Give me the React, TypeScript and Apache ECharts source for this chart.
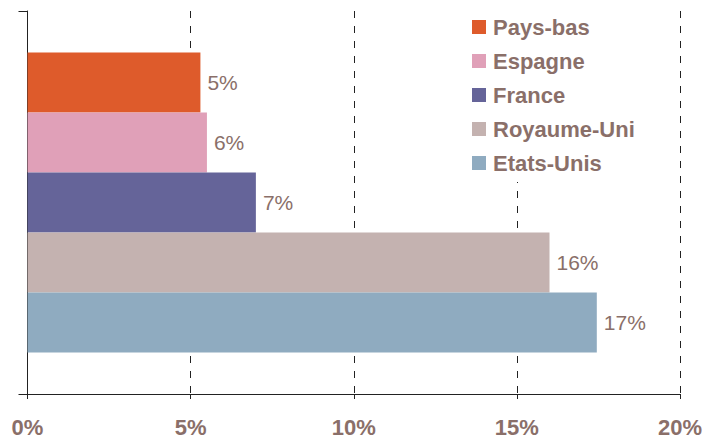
import React, { useEffect, useRef } from "react";
import * as echarts from "echarts";

const countries = ["Pays-bas", "Espagne", "France", "Royaume-Uni", "Etats-Unis"];
const shares = [5.3, 5.5, 7.0, 16.0, 17.45];
const colors = ["#DE5B2B", "#E0A0B8", "#656499", "#C4B2B0", "#8FABC0"];
const xTicks = [0, 5, 10, 15, 20];

const TEXT = "#8a6f69";
const FONT = "'Liberation Sans', Arial, sans-serif";

export default function App() {
  const ref = useRef<HTMLDivElement>(null);
  useEffect(() => {
    const chart = echarts.init(ref.current!, undefined, { renderer: "svg" });
    chart.setOption({
      animation: false,
      grid: { left: 27.5, right: 26, top: 11, bottom: 37, containLabel: false },
      legend: {
        orient: "vertical",
        left: 462,
        top: 8,
        padding: [8, 10, 8, 10],
        backgroundColor: "#ffffff",
        itemWidth: 14,
        itemHeight: 14,
        itemGap: 12,
        icon: "rect",
        data: countries,
        textStyle: {
          color: TEXT,
          fontSize: 22,
          fontWeight: "bold",
          fontFamily: FONT,
          padding: [0, 0, 0, 2],
        },
      },
      xAxis: {
        type: "value",
        min: xTicks[0],
        max: xTicks[xTicks.length - 1],
        interval: 5,
        axisLine: { show: true, lineStyle: { color: "#222", width: 1 } },
        axisTick: { show: true, length: 5, lineStyle: { color: "#222" } },
        splitLine: {
          show: true,
          lineStyle: { color: "#222", type: [7, 8], width: 1 },
        },
        axisLabel: {
          formatter: "{value}%",
          color: TEXT,
          fontSize: 22,
          fontWeight: "bold",
          fontFamily: FONT,
          margin: 22,
        },
      },
      yAxis: {
        type: "category",
        data: [""],
        inverse: true,
        axisLine: { show: true, lineStyle: { color: "#222", width: 1 } },
        axisTick: { show: true, length: 9, lineStyle: { color: "#222" } },
        axisLabel: { show: false },
      },
      series: countries.map((name, i) => ({
        name,
        type: "bar",
        data: [shares[i]],
        barWidth: 60,
        barGap: "0%",
        itemStyle: { color: colors[i] },
        label: {
          show: true,
          position: "right",
          distance: 7,
          color: TEXT,
          fontSize: 21,
          fontFamily: FONT,
          formatter: (p: any) => Math.round(p.value) + "%",
        },
      })),
    });
    return () => chart.dispose();
  }, []);
  return (
    <div
      ref={ref}
      style={{ position: "fixed", left: 0, top: 0, width: 706, height: 438, background: "#fff" }}
    />
  );
}
